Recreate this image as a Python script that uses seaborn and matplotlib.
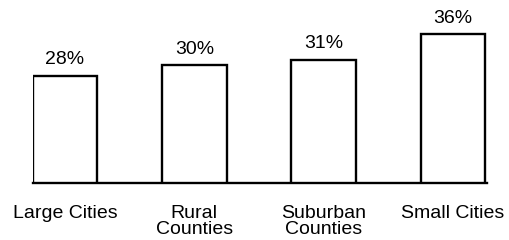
import matplotlib
matplotlib.use("Agg")
import matplotlib.pyplot as plt
import seaborn as sns

categories = ["Large Cities", "Rural\nCounties", "Suburban\nCounties", "Small Cities"]
values = [28, 30, 31, 36]

sns.set_theme(style="white")
plt.rcParams['font.family'] = ['Liberation Sans', 'DejaVu Sans']

fig = plt.figure(figsize=(5.1, 2.4), dpi=100)
ax = fig.add_axes([0.0641, 0.2375, 0.890, 0.705])

sns.barplot(x=categories, y=values, color="white", edgecolor="black",
            linewidth=1.7, width=0.5, ax=ax, saturation=1)

ax.set_xlim(-0.25, 3.26)
ax.set_ylim(7.1, 40)
for i, v in enumerate(values):
    ax.annotate(f"{v}%", xy=(i, v), xytext=(0, 5.5), textcoords="offset points",
                ha="center", va="bottom", fontsize=14, color="black")

for s in ["top", "left", "right"]:
    ax.spines[s].set_visible(False)
ax.spines["bottom"].set_color("black")
ax.spines["bottom"].set_linewidth(1.7)
ax.set_yticks([])
ax.set_ylabel("")
ax.tick_params(axis="x", length=0, pad=16, labelsize=14, colors="black")
for lbl in ax.get_xticklabels():
    lbl.set_linespacing(0.92)

fig.savefig("out.png", dpi=100, facecolor="white")
